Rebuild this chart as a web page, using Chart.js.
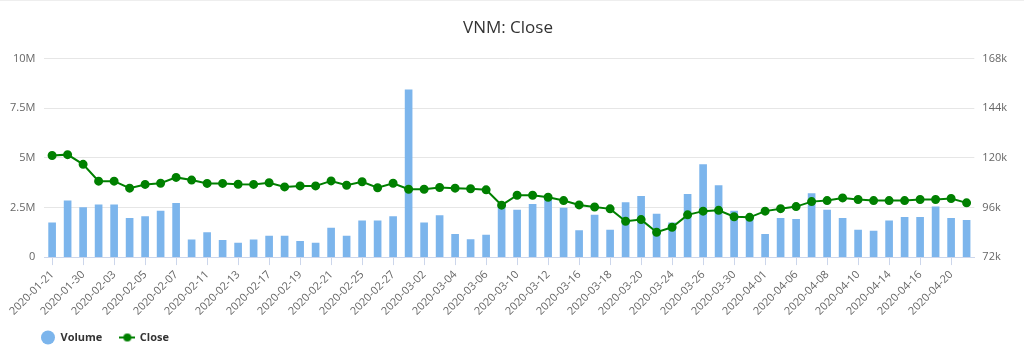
<!DOCTYPE html>
<html>
<head>
<meta charset="utf-8">
<script src="https://cdn.jsdelivr.net/npm/chart.js@4.4.1/dist/chart.umd.min.js"></script>
<style>
  html, body { margin: 0; padding: 0; background: #fff; }
  #wrap { width: 1024px; height: 354px; position: relative; border-top: 1px solid #eee; box-sizing: border-box; }
</style>
</head>
<body>
<div id="wrap"><canvas id="chart"></canvas></div>
<script>
// trading days
const dates = [
  '2020-01-21', '2020-01-22', '2020-01-30', '2020-01-31',
  '2020-02-03', '2020-02-04', '2020-02-05', '2020-02-06', '2020-02-07', '2020-02-10',
  '2020-02-11', '2020-02-12', '2020-02-13', '2020-02-14', '2020-02-17', '2020-02-18',
  '2020-02-19', '2020-02-20', '2020-02-21', '2020-02-24', '2020-02-25', '2020-02-26',
  '2020-02-27', '2020-02-28', '2020-03-02', '2020-03-03', '2020-03-04', '2020-03-05',
  '2020-03-06', '2020-03-09', '2020-03-10', '2020-03-11', '2020-03-12', '2020-03-13',
  '2020-03-16', '2020-03-17', '2020-03-18', '2020-03-19', '2020-03-20', '2020-03-23',
  '2020-03-24', '2020-03-25', '2020-03-26', '2020-03-27', '2020-03-30', '2020-03-31',
  '2020-04-01', '2020-04-03', '2020-04-06', '2020-04-07', '2020-04-08', '2020-04-09',
  '2020-04-10', '2020-04-13', '2020-04-14', '2020-04-15', '2020-04-16', '2020-04-17',
  '2020-04-20', '2020-04-21'
];

// volume (shares)
const volume = [
  1730000, 2830000, 2490000, 2630000, 2630000, 1950000, 2040000, 2310000, 2710000, 870000,
  1230000, 840000, 710000, 870000, 1060000, 1060000, 790000, 710000, 1460000, 1060000,
  1820000, 1820000, 2040000, 8420000, 1720000, 2090000, 1150000, 880000, 1110000, 2530000,
  2360000, 2660000, 3000000, 2470000, 1330000, 2120000, 1360000, 2740000, 3060000, 2170000,
  1720000, 3160000, 4660000, 3600000, 2310000, 2040000, 1140000, 1950000, 1900000, 3200000,
  2360000, 1950000, 1360000, 1310000, 1820000, 2000000, 2000000, 2530000, 1950000, 1850000
];

// close price
const close = [
  121100, 121500, 116800, 108700, 108700, 105300, 107100, 107700, 110500, 109200,
  107600, 107600, 107200, 107100, 107900, 105900, 106400, 106400, 108800, 106700,
  108400, 105500, 107700, 104800, 104800, 105600, 105300, 105000, 104500, 97100,
  101900, 101900, 100900, 99300, 97200, 96200, 95300, 89300, 90100, 84000,
  86400, 92400, 94200, 94600, 91500, 91200, 94200, 95400, 96400, 98800,
  99300, 100600, 99800, 99300, 99300, 99300, 99800, 99800, 100300, 98200
];

const volTicks = [0, 2500000, 5000000, 7500000, 10000000];
const closeTicks = [72000, 96000, 120000, 144000, 168000];

const FONT = '"Open Sans", "DejaVu Sans", sans-serif';

// little "line with dot" marker for the Close legend item
function lineMarker() {
  const c = document.createElement('canvas');
  c.width = 16; c.height = 10;
  const g = c.getContext('2d');
  g.strokeStyle = '#008000';
  g.lineWidth = 2;
  g.beginPath(); g.moveTo(0, 5); g.lineTo(16, 5); g.stroke();
  g.fillStyle = '#008000';
  g.beginPath(); g.arc(8, 5, 4, 0, Math.PI * 2); g.fill();
  return c;
}
const closeMarker = lineMarker();

function fmtVol(v) {
  if (v === 0) return '0';
  return (v / 1000000) + 'M';
}

// nudge the legend so it starts under the plot like the original
const legendShift = {
  id: 'legendShift',
  afterLayout(chart) {
    const lg = chart.legend;
    lg.left += 22; lg.right += 22;
    lg.top -= 7; lg.bottom -= 7;
  }
};

new Chart(document.getElementById('chart'), {
  data: {
    labels: dates,
    datasets: [
      {
        type: 'line',
        label: 'Close',
        data: close,
        yAxisID: 'y1',
        borderColor: '#008000',
        backgroundColor: '#008000',
        borderWidth: 2,
        pointRadius: 3.5,
        pointHoverRadius: 5,
        tension: 0,
        order: 0
      },
      {
        type: 'bar',
        label: 'Volume',
        data: volume,
        yAxisID: 'y',
        backgroundColor: '#7cb5ec',
        barThickness: 7,
        order: 1
      }
    ]
  },
  options: {
    responsive: true,
    maintainAspectRatio: false,
    animation: false,
    layout: { padding: { left: 1, right: 9, top: 6, bottom: 0 } },
    plugins: {
      title: {
        display: true,
        text: 'VNM: Close',
        color: '#333333',
        font: { family: FONT, size: 17, weight: 'normal' },
        padding: { top: 11, bottom: 20 }
      },
      legend: {
        position: 'bottom',
        align: 'start',
        maxHeight: 33,
        labels: {
          usePointStyle: true,
          boxHeight: 10,
          pointStyleWidth: 14,
          color: '#333333',
          font: { family: FONT, size: 11, weight: 'bold' },
          padding: 18,
          generateLabels: () => [
            { text: 'Volume', datasetIndex: 1, pointStyle: 'circle', fillStyle: '#7cb5ec', strokeStyle: '#7cb5ec', lineWidth: 0, fontColor: '#333333' },
            { text: 'Close', datasetIndex: 0, pointStyle: closeMarker, fillStyle: '#008000', strokeStyle: '#008000', lineWidth: 0, fontColor: '#333333' }
          ]
        }
      },
      tooltip: { enabled: true }
    },
    scales: {
      x: {
        offset: true,
        grid: {
          offset: false,
          drawOnChartArea: false,
          drawTicks: true,
          tickLength: 8,
          color: '#ccd6eb'
        },
        border: { color: '#ccd6eb' },
        ticks: {
          autoSkip: false,
          minRotation: 45,
          maxRotation: 45,
          color: '#666666',
          font: { family: FONT, size: 11 },
          callback: function (value, index) {
            return index % 2 === 0 ? this.getLabelForValue(value) : null;
          }
        }
      },
      y: {
        position: 'left',
        min: 0,
        max: 10000000,
        afterBuildTicks: (axis) => { axis.ticks = volTicks.map(v => ({ value: v })); },
        grid: { color: '#e6e6e6', drawTicks: false },
        border: { display: false },
        ticks: {
          color: '#666666',
          padding: 9,
          font: { family: FONT, size: 11 },
          callback: (v) => fmtVol(v)
        }
      },
      y1: {
        position: 'right',
        min: 72000,
        max: 168000,
        afterBuildTicks: (axis) => { axis.ticks = closeTicks.map(v => ({ value: v })); },
        grid: { drawOnChartArea: false, drawTicks: false },
        border: { display: false },
        ticks: {
          color: '#666666',
          padding: 8,
          font: { family: FONT, size: 11 },
          callback: (v) => (v / 1000) + 'k'
        }
      }
    }
  },
  plugins: [legendShift]
});
</script>
</body>
</html>
